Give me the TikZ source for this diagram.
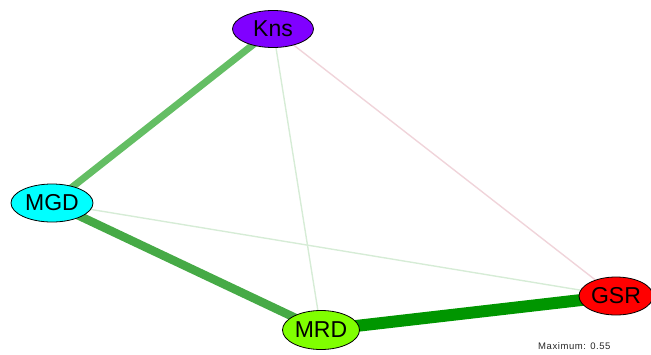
\documentclass[tikz,border=0pt]{standalone}
\usepackage{fontspec}
\setmainfont{Liberation Sans}
\usetikzlibrary{shapes.geometric}
\begin{document}
\begin{tikzpicture}[x=1pt,y=-1pt,
  vert/.style={ellipse,draw=black,line width=0.8pt,inner sep=0pt,font=\fontsize{23}{23}\selectfont},
  faint/.style={line width=1.4pt},
]
\useasboundingbox (0,0) rectangle (651,354);
\definecolor{cKns}{RGB}{128,0,255}
\definecolor{cMGD}{RGB}{0,255,255}
\definecolor{cMRD}{RGB}{128,255,0}
\definecolor{cGSR}{RGB}{255,0,0}
\coordinate (pKns) at (273,29);
\coordinate (pMGD) at (52,203);
\coordinate (pMRD) at (321,330);
\coordinate (pGSR) at (616,296);
% edges
\draw[faint,color={rgb,255:red,240;green,212;blue,218}] (pKns) -- (pGSR);
\draw[faint,color={rgb,255:red,214;green,236;blue,214}] (pKns) -- (pMRD);
\draw[faint,color={rgb,255:red,214;green,236;blue,214}] (pMGD) -- (pGSR);
\draw[line width=7pt,color={rgb,255:red,100;green,190;blue,100}] (pKns) -- (pMGD);
\draw[line width=8.5pt,color={rgb,255:red,70;green,170;blue,70}] (pMGD) -- (pMRD);
\draw[line width=12pt,color={rgb,255:red,0;green,150;blue,0}] (pMRD) -- (pGSR);
% nodes
\node[vert,fill=cKns,minimum width=81pt,minimum height=37pt] (Kns) at (pKns) {Kns};
\node[vert,fill=cMGD,minimum width=82pt,minimum height=38pt] (MGD) at (pMGD) {MGD};
\node[vert,fill=cMRD,minimum width=77pt,minimum height=39pt] (MRD) at (pMRD) {MRD};
\node[vert,fill=cGSR,minimum width=74pt,minimum height=38pt] (GSR) at (pGSR) {GSR};
\node[anchor=west,inner sep=0pt,text=black!85,font=\fontsize{9.5}{9.5}\selectfont\addfontfeature{LetterSpace=6}] (mx) at (538,346) {Maximum: 0.55};
\end{tikzpicture}
\end{document}
